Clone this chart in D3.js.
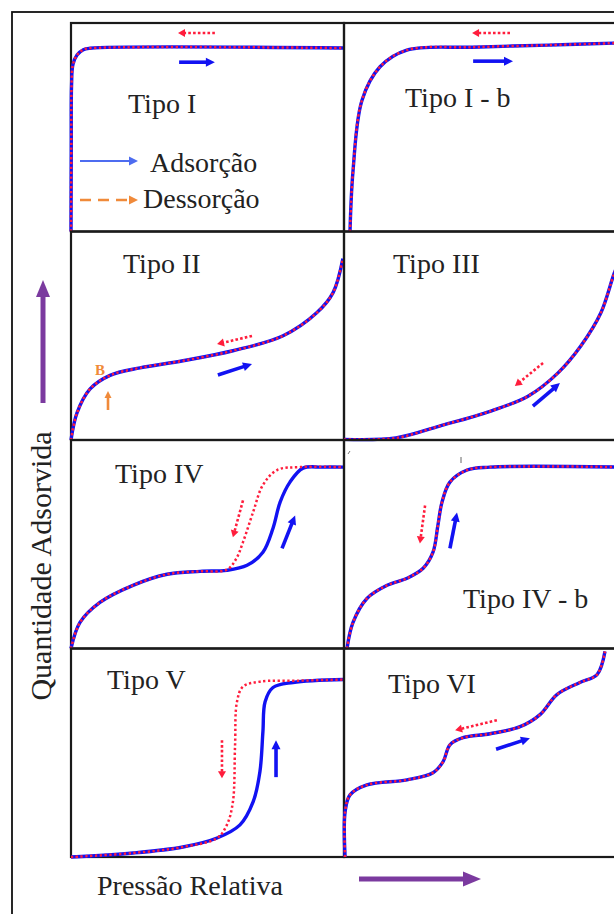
<!DOCTYPE html>
<html>
<head>
<meta charset="utf-8">
<script src="https://cdn.jsdelivr.net/npm/d3@7"></script>
<style>
  body { margin: 0; background: #fff; }
  text { font-family: "Liberation Serif", "Times New Roman", serif; fill: #222; }
</style>
</head>
<body>
<svg id="chart" width="614" height="914"></svg>
<script>
// isotherms, [relative pressure, amount adsorbed], both 0..1 inside each panel
const tipoI    = [[0,0],[0.001,0.4],[0.002,0.7],[0.007,0.8],[0.022,0.846],[0.045,0.872],[0.07,0.879],[1,0.88]];
const tipoIb   = [[0.022,0],[0.033,0.29],[0.066,0.63],[0.132,0.79],[0.23,0.87],[0.47,0.884],[0.75,0.894],[1,0.904]];
const tipoII   = [[0,0],[0.022,0.13],[0.07,0.245],[0.143,0.31],[0.253,0.346],[0.41,0.38],[0.593,0.428],[0.777,0.5],[0.9,0.61],[0.96,0.707],[0.996,0.87]];
const tipoIII  = [[0,0.003],[0.19,0.01],[0.35,0.067],[0.538,0.139],[0.674,0.21],[0.784,0.322],[0.868,0.452],[0.941,0.61],[0.99,0.8],[1.01,0.86]];
const tipoIVads = [[0,0],[0.033,0.125],[0.106,0.221],[0.227,0.303],[0.352,0.356],[0.473,0.37],[0.571,0.375],[0.645,0.399],[0.703,0.462],[0.74,0.577],[0.766,0.702],[0.802,0.798],[0.85,0.865],[0.92,0.87],[1,0.87]];
const tipoIVdes = [[0,0],[0.033,0.125],[0.106,0.221],[0.227,0.303],[0.352,0.356],[0.473,0.37],[0.571,0.378],[0.605,0.43],[0.63,0.51],[0.667,0.654],[0.703,0.784],[0.755,0.856],[0.84,0.87],[1,0.87]];
const tipoIVb  = [[0.011,0],[0.033,0.125],[0.084,0.24],[0.158,0.303],[0.231,0.337],[0.29,0.385],[0.326,0.462],[0.344,0.591],[0.359,0.702],[0.388,0.798],[0.451,0.856],[0.535,0.87],[1,0.87]];
const tipoVads = [[0,0],[0.227,0.019],[0.41,0.048],[0.535,0.091],[0.619,0.154],[0.667,0.264],[0.692,0.409],[0.703,0.601],[0.711,0.745],[0.74,0.813],[0.813,0.837],[1,0.851]];
const tipoVdes = [[0,0],[0.227,0.019],[0.41,0.048],[0.535,0.091],[0.571,0.154],[0.593,0.264],[0.601,0.538],[0.608,0.745],[0.63,0.817],[0.692,0.841],[0.839,0.846],[1,0.851]];
const tipoVI   = [[0.004,0],[0.004,0.216],[0.022,0.298],[0.084,0.346],[0.231,0.37],[0.326,0.404],[0.363,0.457],[0.388,0.538],[0.436,0.572],[0.535,0.591],[0.645,0.625],[0.718,0.683],[0.78,0.779],[0.864,0.837],[0.927,0.875],[0.956,0.986]];

const panelNames = ["Tipo I", "Tipo I - b", "Tipo II", "Tipo III", "Tipo IV", "Tipo IV - b", "Tipo V", "Tipo VI"];
const adsCurves = [tipoI, tipoIb, tipoII, tipoIII, tipoIVads, tipoIVb, tipoVads, tipoVI];
const desCurves = [tipoI, tipoIb, tipoII, tipoIII, tipoIVdes, tipoIVb, tipoVdes, tipoVI];

const legendLabels = ["Adsorção", "Dessorção"];
const yTitle = "Quantidade Adsorvida";
const xTitle = "Pressão Relativa";

// layout
const gridX = 71, gridY = 23, cellW = 273, cellH = 208.5;
const BLUE = "#1212f2", RED = "#ff1d3c", PURPLE = "#7b3a9f", ORANGE = "#f08a3a";

// label placement (offset from panel top-left) and direction arrows in panel units
const panelOpts = [
  { lx: 57,  ly: 90,  red: [[0.527,0.952],[0.392,0.952]], blue: [[0.396,0.812],[0.527,0.812]] },
  { lx: 61,  ly: 84,  red: [[0.608,0.952],[0.469,0.952]], blue: [[0.473,0.817],[0.619,0.817]] },
  { lx: 52,  ly: 41,  red: [[0.663,0.499],[0.535,0.46]],  blue: [[0.538,0.312],[0.663,0.365]] },
  { lx: 49,  ly: 41,  red: [[0.729,0.369],[0.626,0.259]], blue: [[0.692,0.163],[0.791,0.273]] },
  { lx: 44,  ly: 43,  red: [[0.63,0.71],[0.593,0.533]],   blue: [[0.773,0.48],[0.821,0.638]] },
  { lx: 119, ly: 168, red: [[0.297,0.686],[0.278,0.504]], blue: [[0.388,0.48],[0.414,0.652]] },
  { lx: 36,  ly: 40,  red: [[0.553,0.56],[0.553,0.378]],  blue: [[0.751,0.383],[0.751,0.56]] },
  { lx: 44,  ly: 44,  red: [[0.56,0.656],[0.407,0.608]],  blue: [[0.557,0.517],[0.681,0.57]] }
];

const svg = d3.select("#chart");

// outer frame
svg.append("rect").attr("x", 12).attr("y", 12).attr("width", 640).attr("height", 940)
  .attr("fill", "none").attr("stroke", "#111").attr("stroke-width", 1.8);

function arrow(g, p0, p1, color, width, headLen, headW, dash) {
  const dx = p1[0] - p0[0], dy = p1[1] - p0[1];
  const len = Math.hypot(dx, dy), ux = dx / len, uy = dy / len;
  const bx = p1[0] - ux * headLen, by = p1[1] - uy * headLen;
  const ln = g.append("line").attr("x1", p0[0]).attr("y1", p0[1]).attr("x2", bx + ux).attr("y2", by + uy)
    .attr("stroke", color).attr("stroke-width", width);
  if (dash) ln.attr("stroke-dasharray", dash);
  g.append("path")
    .attr("d", `M${p1[0]},${p1[1]}L${bx - uy * headW / 2},${by + ux * headW / 2}L${bx + uy * headW / 2},${by - ux * headW / 2}Z`)
    .attr("fill", color);
}

const line = d3.line().curve(d3.curveCatmullRom.alpha(0.5));

panelNames.forEach((name, i) => {
  const col = i % 2, row = Math.floor(i / 2);
  const x0 = gridX + col * cellW, y0 = gridY + row * cellH;
  const x = d3.scaleLinear().domain([0, 1]).range([x0, x0 + cellW]);
  const y = d3.scaleLinear().domain([0, 1]).range([y0 + cellH, y0]);
  const g = svg.append("g");
  const o = panelOpts[i];

  g.append("rect").attr("x", x0).attr("y", y0).attr("width", cellW).attr("height", cellH)
    .attr("fill", "none").attr("stroke", "#1a1a1a").attr("stroke-width", 2.2);

  g.append("text").attr("x", x0 + o.lx).attr("y", y0 + o.ly)
    .attr("font-size", 28).text(name);

  line.x(d => x(d[0])).y(d => y(d[1]));
  g.append("path").attr("d", line(adsCurves[i])).attr("fill", "none")
    .attr("stroke", BLUE).attr("stroke-width", 3.4);
  g.append("path").attr("d", line(desCurves[i])).attr("fill", "none")
    .attr("stroke", RED).attr("stroke-width", 2.5).attr("stroke-dasharray", "2.3,2.5");

  const pt = p => [x(p[0]), y(p[1])];
  arrow(g, pt(o.red[0]), pt(o.red[1]), RED, 2.6, 7, 8, "2.6,2.2");
  arrow(g, pt(o.blue[0]), pt(o.blue[1]), BLUE, 3.6, 9, 9);
});

// "B" point marker in Tipo II
const gB = svg.append("g");
gB.append("text").attr("x", 95).attr("y", 375).attr("font-size", 15).attr("font-weight", "bold")
  .style("fill", ORANGE).text("B");
arrow(gB, [108, 410], [108, 391], ORANGE, 2.6, 7, 7);

// tiny stray marks in Tipo IV - b
svg.append("line").attr("x1", 348).attr("y1", 454).attr("x2", 350).attr("y2", 451).attr("stroke", "#777").attr("stroke-width", 1);
svg.append("line").attr("x1", 461).attr("y1", 457).attr("x2", 461).attr("y2", 463).attr("stroke", "#666").attr("stroke-width", 1);

// legend
const leg = svg.append("g");
arrow(leg, [80, 161], [138, 161], "#4d6cf0", 2.2, 9, 9);
arrow(leg, [80, 200], [138, 200], ORANGE, 2.6, 9, 9, "11,7");
leg.append("text").attr("x", 150).attr("y", 172).attr("font-size", 28).text(legendLabels[0]);
leg.append("text").attr("x", 143).attr("y", 208).attr("font-size", 28).text(legendLabels[1]);

// axis titles with purple arrows
svg.append("text").attr("transform", "translate(51,566) rotate(-90)")
  .attr("text-anchor", "middle").attr("font-size", 30).text(yTitle);
svg.append("text").attr("x", 97).attr("y", 895).attr("font-size", 28).text(xTitle);
arrow(svg, [43, 403], [43, 280], PURPLE, 5, 17, 14);
arrow(svg, [359, 879], [481, 879], PURPLE, 5, 18, 15);
</script>
</body>
</html>
